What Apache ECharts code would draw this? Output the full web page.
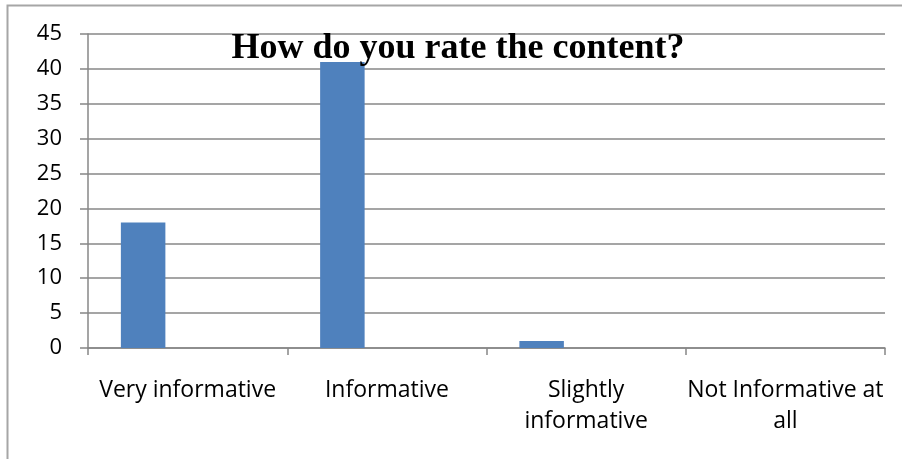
<!DOCTYPE html>
<html>
<head>
<meta charset="utf-8">
<script src="https://cdn.jsdelivr.net/npm/echarts@6/dist/echarts.min.js"></script>
<style>
  html, body { margin: 0; padding: 0; background: #ffffff; }
  #chart { width: 902px; height: 459px; }
</style>
</head>
<body>
<div id="chart"></div>
<script>
// Survey answers: "How do you rate the content?"
const categories = ['Very informative', 'Informative', 'Slightly\ninformative', 'Not Informative at\nall'];
const seriesA = [18, 41, 1, 0];
const seriesB = [0, 0, 0, 0];
const seriesC = [0, 0, 0, 0];
const yTicks = { min: 0, max: 45, step: 5 };

const axisGray = '#878787';
const labelFont = '"Open Sans", Lato, sans-serif';

const chart = echarts.init(document.getElementById('chart'), null, { renderer: 'canvas' });

function barSeries(name, values) {
  return {
    name: name,
    type: 'bar',
    data: values,
    barGap: '0%',
    barCategoryGap: '33%',
    itemStyle: { color: '#4f81bd' },
    silent: true
  };
}

chart.setOption({
  animation: false,
  backgroundColor: '#ffffff',
  title: {
    text: 'How do you rate the content?',
    left: 453,
    textAlign: 'center',
    top: 26,
    textStyle: {
      fontFamily: '"Liberation Serif", "Times New Roman", serif',
      fontWeight: 'bold',
      fontSize: 36,
      color: '#000000'
    }
  },
  graphic: [
    {
      type: 'rect',
      shape: { x: 7.5, y: 5.5, width: 920, height: 480 },
      style: { fill: 'none', stroke: '#a6a6a6', lineWidth: 2 },
      silent: true,
      z: -1
    }
  ],
  grid: { left: 88, right: 17, top: 34, bottom: 111, containLabel: false },
  xAxis: {
    type: 'category',
    data: categories,
    boundaryGap: true,
    axisLine: { show: true, lineStyle: { color: axisGray, width: 1.5 } },
    axisTick: { show: true, length: 7, alignWithLabel: false, lineStyle: { color: axisGray, width: 1.5 } },
    axisLabel: {
      interval: 0,
      margin: 27,
      fontFamily: labelFont,
      fontSize: 23,
      lineHeight: 31,
      color: '#000000',
      align: 'center'
    },
    splitLine: { show: false }
  },
  yAxis: {
    type: 'value',
    min: yTicks.min,
    max: yTicks.max,
    interval: yTicks.step,
    axisLine: { show: true, lineStyle: { color: axisGray, width: 1.5 } },
    axisTick: { show: true, length: 8, lineStyle: { color: axisGray, width: 1.5 } },
    axisLabel: {
      margin: 26,
      fontFamily: labelFont,
      fontSize: 22,
      color: '#000000'
    },
    splitLine: { show: true, lineStyle: { color: axisGray, width: 1.5 } }
  },
  series: [
    barSeries('Series 1', seriesA),
    barSeries('Series 2', seriesB),
    barSeries('Series 3', seriesC)
  ]
});
</script>
</body>
</html>
